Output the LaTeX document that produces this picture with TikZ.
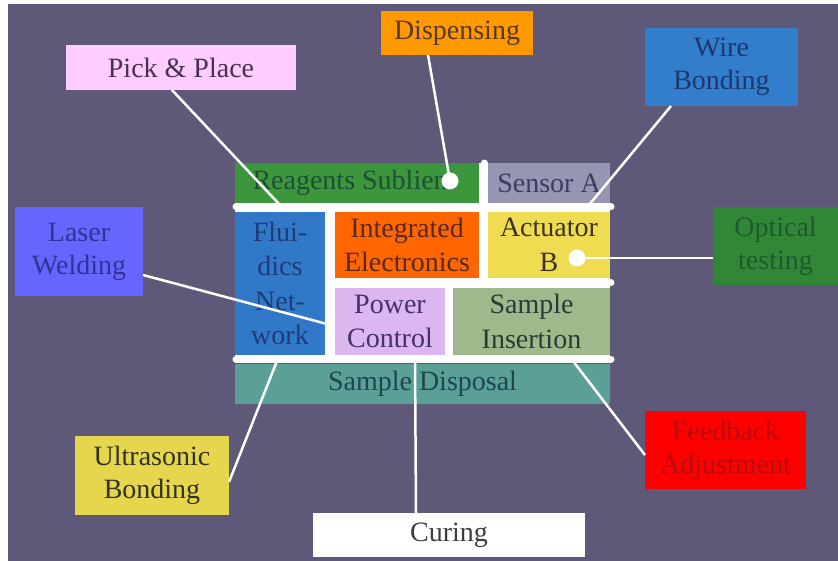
\documentclass[tikz,border=0pt]{standalone}
\usepackage{fontspec}
\setmainfont{Liberation Serif}
\definecolor{bgc}{RGB}{94,89,121}
\definecolor{pinkc}{RGB}{255,204,255}\definecolor{pinkt}{RGB}{70,50,80}
\definecolor{dispc}{RGB}{255,153,0}\definecolor{dispt}{RGB}{90,55,30}
\definecolor{wirec}{RGB}{51,125,205}\definecolor{wiret}{RGB}{30,55,110}
\definecolor{laserc}{RGB}{102,102,255}\definecolor{lasert}{RGB}{50,50,150}
\definecolor{optc}{RGB}{50,135,55}\definecolor{optt}{RGB}{30,90,45}
\definecolor{ultc}{RGB}{230,214,77}\definecolor{ultt}{RGB}{50,50,35}
\definecolor{curt}{RGB}{60,60,60}
\definecolor{feedc}{RGB}{255,0,0}\definecolor{feedt}{RGB}{185,10,15}
\definecolor{reagc}{RGB}{60,150,60}\definecolor{reagt}{RGB}{30,80,55}
\definecolor{sensc}{RGB}{150,150,180}\definecolor{senst}{RGB}{60,60,95}
\definecolor{fluc}{RGB}{50,120,200}\definecolor{flut}{RGB}{30,60,120}
\definecolor{intc}{RGB}{255,102,0}\definecolor{intt}{RGB}{90,40,25}
\definecolor{actc}{RGB}{240,220,80}\definecolor{actt}{RGB}{60,50,30}
\definecolor{powc}{RGB}{220,182,240}\definecolor{powt}{RGB}{70,50,100}
\definecolor{sinsc}{RGB}{160,185,140}\definecolor{sinst}{RGB}{40,60,55}
\definecolor{sdisc}{RGB}{90,160,150}\definecolor{sdist}{RGB}{30,70,80}
\tikzset{
  lbl/.style={inner sep=0pt, align=center, font=\fontsize{28}{33}\selectfont},
  cel/.style={inner sep=0pt, align=center, font=\fontsize{28}{34.5}\selectfont},
  conn/.style={draw=white, line width=2.5pt},
  bar/.style={draw=white, line width=7pt, line cap=round},
  dotc/.style={circle, fill=white, inner sep=0pt, minimum size=17pt}
}
\newcommand{\boxat}[6]{% name, x1,y1,x2,y2, fill
  \path[fill=#6] (#2,#3) rectangle (#4,#5);
  \coordinate (#1) at ({(#2+#4)/2},{(#3+#5)/2});}
\begin{document}
\begin{tikzpicture}[x=1pt,y=-1pt]
\useasboundingbox (0,0) rectangle (838,561);
\fill[white] (0,0) rectangle (838,561);
\fill[bgc] (8,4) rectangle (838,561);

% central block
\fill[white] (235,163) rectangle (610,360);
\boxat{reag}{235}{163}{479}{203}{reagc}
\boxat{sens}{488}{163}{610}{203}{sensc}
\boxat{flu}{235}{212}{325}{355}{fluc}
\boxat{intg}{335}{212}{479}{278}{intc}
\boxat{act}{488}{212}{610}{278}{actc}
\boxat{pow}{335}{288}{445}{355}{powc}
\boxat{sins}{453}{288}{610}{355}{sinsc}
\boxat{sdis}{235}{364}{610}{404}{sdisc}
\draw[bar] (236,207) -- (611,207);
\draw[bar] (331,283) -- (611,283);
\draw[bar] (236,359) -- (611,359);
\draw[bar] (484,163) -- (484,207);

\node[cel, text=reagt] at ([xshift=-3pt]reag) {Reagents Sublient};
\node[cel, text=senst] at (sens) {Sensor A};
\node[cel, text=flut] at (flu) {Flui-\\dics\\Net-\\work};
\node[cel, text=intt] at (intg) {Integrated\\Electronics};
\node[cel, text=actt] at (act) {Actuator\\B};
\node[cel, text=powt] at (pow) {Power\\Control};
\node[cel, text=sinst] at (sins) {Sample\\Insertion};
\node[cel, text=sdist] at (sdis) {Sample Disposal};

% outer labels
\boxat{pick}{66}{45}{296}{90}{pinkc}
\node[lbl, text=pinkt] at (pick) {Pick \& Place};
\boxat{disp}{381}{11}{533}{55}{dispc}
\node[lbl, text=dispt] at (disp) {Dispensing};
\boxat{wire}{645}{28}{798}{106}{wirec}
\node[lbl, text=wiret] at (wire) {Wire\\Bonding};
\boxat{laser}{15}{207}{143}{296}{laserc}
\node[lbl, text=lasert] at (laser) {Laser\\Welding};
\boxat{opt}{713}{207}{838}{285}{optc}
\node[lbl, text=optt] at (opt) {Optical\\testing};
\boxat{ult}{75}{436}{229}{515}{ultc}
\node[lbl, text=ultt] at (ult) {Ultrasonic\\Bonding};
\boxat{cur}{313}{513}{585}{557}{white}
\node[lbl, text=curt] at (cur) {Curing};
\boxat{feed}{645}{411}{806}{489}{feedc}
\node[lbl, text=feedt] at (feed) {Feedback\\Adjustment};

% connector endpoints
\coordinate (pickA) at (172,90);
\coordinate (pickB) at (280,205);
\coordinate (dispA) at (428,55);
\node[dotc] (dispdot) at (450,181) {};
\coordinate (wireA) at (671,106);
\coordinate (wireB) at (589,205);
\coordinate (laserA) at (143,275);
\coordinate (laserB) at (327,324);
\node[dotc] (actdot) at (577,258) {};
\coordinate (optA) at (713,258);
\coordinate (ultA) at (229,482);
\coordinate (ultB) at (277,361);
\coordinate (curA) at (416,513);
\coordinate (curB) at (415,361);
\coordinate (feedA) at (645,455);
\coordinate (feedB) at (573,361);

\draw[conn] (pickA) -- (pickB);
\draw[conn] (dispA) -- (dispdot.center);
\draw[conn] (wireA) -- (wireB);
\draw[conn] (laserA) -- (laserB);
\draw[conn] (actdot.center) -- (optA);
\draw[conn] (ultA) -- (ultB);
\draw[conn] (curA) -- (curB);
\draw[conn] (feedA) -- (feedB);
\end{tikzpicture}
\end{document}
